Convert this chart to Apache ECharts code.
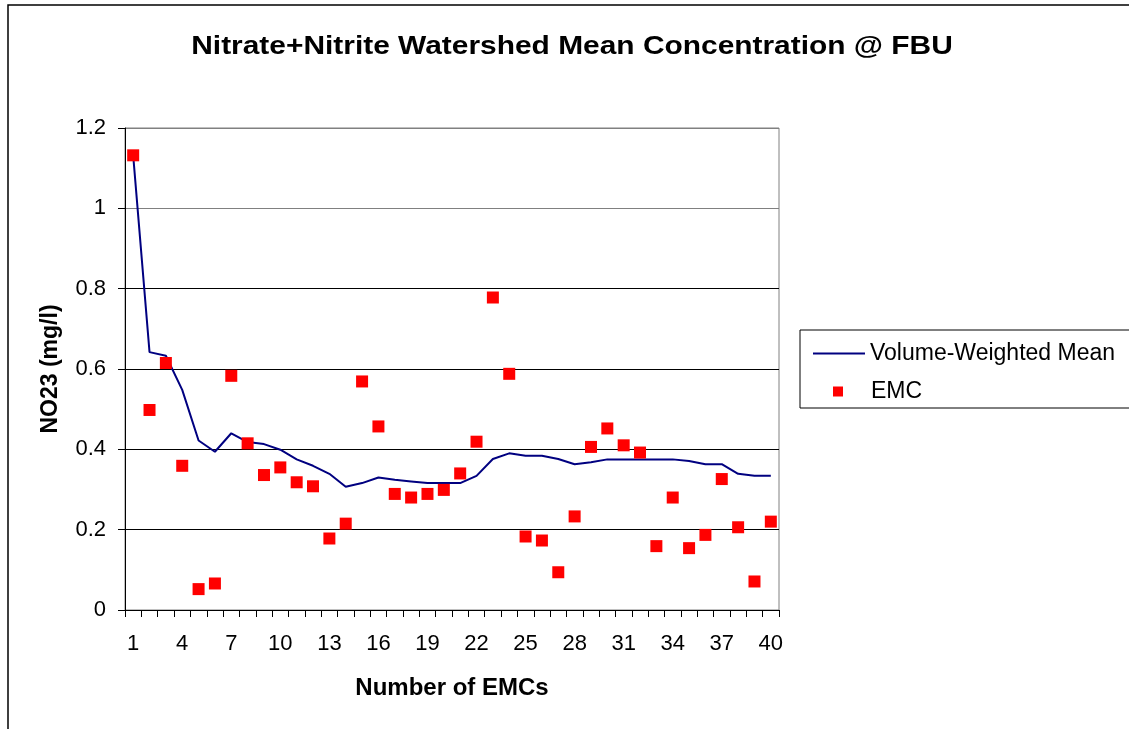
<!DOCTYPE html>
<html>
<head>
<meta charset="utf-8">
<script src="https://cdn.jsdelivr.net/npm/echarts@6/dist/echarts.min.js"></script>
<style>
html,body{margin:0;padding:0;background:#fff;}
#chart{width:1129px;height:729px;}
</style>
</head>
<body>
<div id="chart"></div>
<script>
var categories = [];
for (var i = 1; i <= 40; i++) categories.push(String(i));

var weightedMean = [1.132,0.642,0.633,0.548,0.422,0.394,0.440,0.418,0.413,0.399,
    0.375,0.359,0.339,0.307,0.316,0.330,0.324,0.320,0.316,0.316,
    0.316,0.334,0.376,0.390,0.384,0.384,0.376,0.363,0.368,0.375,
    0.375,0.375,0.375,0.375,0.371,0.363,0.363,0.339,0.334,0.334];

var emc = [1.132,0.498,0.615,0.359,0.052,0.066,0.583,0.415,0.336,0.355,
    0.318,0.308,0.178,0.215,0.569,0.457,0.289,0.280,0.289,0.299,
    0.340,0.419,0.778,0.588,0.183,0.173,0.094,0.233,0.406,0.452,
    0.410,0.392,0.159,0.280,0.154,0.187,0.326,0.206,0.071,0.220];

var font = '"Liberation Sans", Arial, sans-serif';

var chart = echarts.init(document.getElementById('chart'));
chart.setOption({
    animation: false,
    graphic: [
        {type: 'rect', shape: {x: 8, y: 5, width: 1140, height: 740}, style: {fill: 'none', stroke: '#000', lineWidth: 1.5}, silent: true},
        {type: 'rect', shape: {x: 800, y: 330, width: 340, height: 78}, style: {fill: '#fff', stroke: '#000', lineWidth: 1}, z: 1, silent: true},
        {type: 'text', x: 572, y: 47, scaleX: 1.15, silent: true,
            style: {text: 'Nitrate+Nitrite Watershed Mean Concentration @ FBU', fontFamily: font, fontSize: 26, fontWeight: 'bold',
                fill: '#000', align: 'center', verticalAlign: 'middle'}}
    ],
    legend: [
        {
            data: [{name: 'Volume-Weighted Mean', icon: 'rect'}],
            left: 808, top: 337, itemWidth: 52, itemHeight: 2, z: 5,
            textStyle: {fontFamily: font, fontSize: 23, color: '#000'}
        },
        {
            data: [{name: 'EMC', icon: 'rect'}],
            left: 828, top: 375, itemWidth: 10, itemHeight: 10, z: 5,
            textStyle: {fontFamily: font, fontSize: 23, color: '#000', padding: [0, 0, 0, 23]}
        }
    ],
    grid: {left: 125, right: 350, top: 128, bottom: 119, show: true, borderColor: '#808080', borderWidth: 1, backgroundColor: '#fff'},
    xAxis: {
        type: 'category',
        data: categories,
        boundaryGap: true,
        name: 'Number of EMCs',
        nameLocation: 'middle',
        nameGap: 66,
        nameTextStyle: {fontFamily: font, fontSize: 24, fontWeight: 'bold', color: '#000'},
        axisLine: {lineStyle: {color: '#000', width: 1}},
        axisTick: {show: true, alignWithLabel: false, interval: 0, length: 7, lineStyle: {color: '#000'}},
        axisLabel: {interval: 2, margin: 23, fontFamily: font, fontSize: 22, color: '#000'},
        splitLine: {show: false}
    },
    yAxis: {
        type: 'value',
        min: 0, max: 1.2, interval: 0.2,
        name: 'NO23 (mg/l)',
        nameLocation: 'middle',
        nameGap: 63,
        nameRotate: 90,
        nameTextStyle: {fontFamily: font, fontSize: 23, fontWeight: 'bold', color: '#000'},
        axisLine: {show: true, lineStyle: {color: '#000', width: 1}},
        axisTick: {show: true, length: 7, lineStyle: {color: '#000'}},
        axisLabel: {margin: 19, fontFamily: font, fontSize: 22, color: '#000',
            formatter: function (v) { return String(Math.round(v * 10) / 10); }},
        splitLine: {show: true, lineStyle: {color: ['#000', '#000', '#000', '#000', '#000', '#808080', '#808080'], width: 1}}
    },
    series: [
        {
            name: 'Volume-Weighted Mean',
            type: 'line',
            data: weightedMean,
            symbol: 'none',
            lineStyle: {color: '#000080', width: 2},
            itemStyle: {color: '#000080'},
            z: 2
        },
        {
            name: 'EMC',
            type: 'scatter',
            data: emc,
            symbol: 'rect',
            symbolSize: 12,
            itemStyle: {color: '#ff0000', opacity: 1},
            z: 3
        }
    ]
});
</script>
</body>
</html>
